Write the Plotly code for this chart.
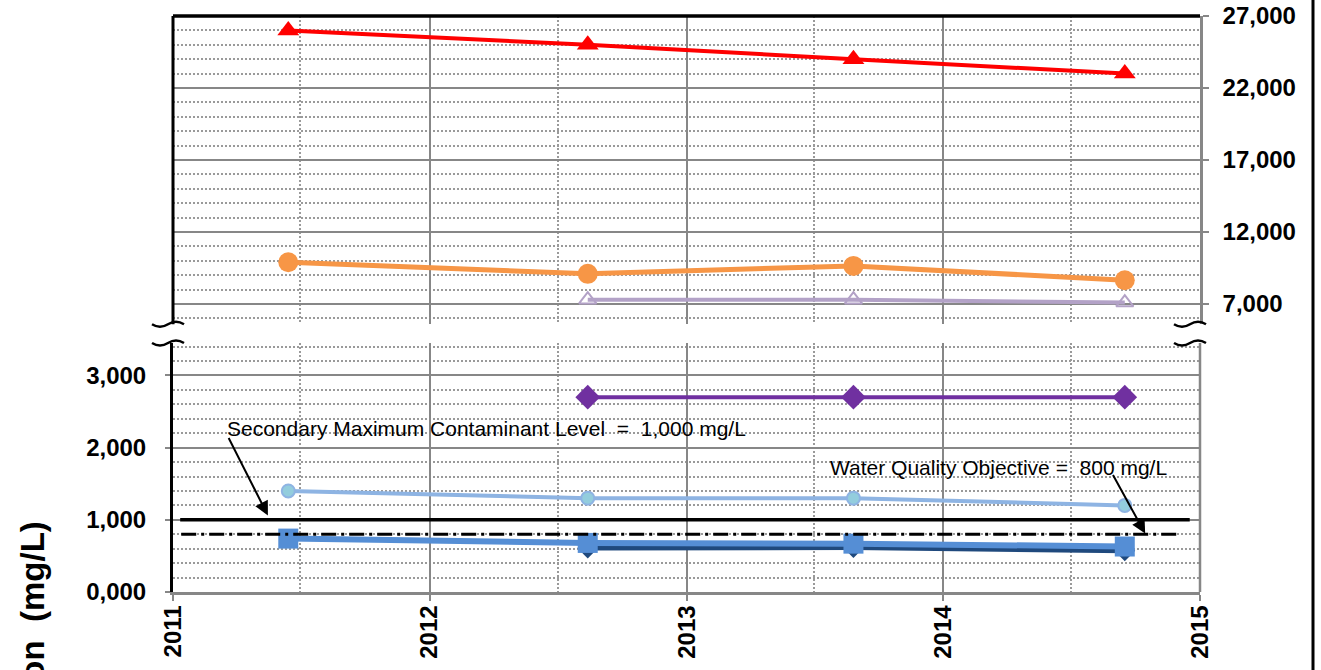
"""Concentration over time, broken y-axis (high-range panel on top, low-range below)."""
import plotly.graph_objects as go

# --- data -------------------------------------------------------------------
SAMPLE_DATES = ["2011-06-14", "2012-08-13", "2013-08-26", "2014-09-16"]

# upper panel (right-hand scale)
red_tri = [26000, 25000, 24000, 23000]
orange_circ = [9900, 9100, 9650, 8650]
lavender_tri = [7300, 7300, 7100]          # from 2nd sample on

# lower panel (left-hand scale)
purple_diam = [2700, 2700, 2700]           # from 2nd sample on
lightblue_circ = [1400, 1300, 1300, 1200]
navy_diam = [610, 615, 570]                # from 2nd sample on
blue_sq = [740, 680, 670, 630]

SMCL = 1000   # Secondary Maximum Contaminant Level
WQO = 800     # Water Quality Objective

TOP_TICKS = [7000, 12000, 17000, 22000, 27000]
TOP_TICKTEXT = ["7,000", "12,000", "17,000", "22,000", "27,000"]
BOT_TICKS = [0, 1000, 2000, 3000]
BOT_TICKTEXT = ["0,000", "1,000", "2,000", "3,000"]

TOP_RANGE = [5600, 27000]
BOT_RANGE = [0, 3450]

# --- layout geometry ----------------------------------------------------------
W, H = 1321, 670
L, R, T, B = 173, 121, 16, 78
PLOT_W = W - L - R
PLOT_H = H - T - B
BOT_DOMAIN = [0, 0.4323]
TOP_DOMAIN = [0.4649, 1]

FONT = "Liberation Sans, Arial, sans-serif"
GRID = "#878787"
DOT = "#9a9a9a"


def px_x(px):
    return (px - L) / PLOT_W


def px_y(py):
    return (H - B - py) / PLOT_H


fig = go.Figure()


def add_series(x, y, yaxis, color, symbol, size, lw, mcolor=None, mline=None):
    fig.add_trace(go.Scatter(
        x=x, y=y, yaxis=yaxis, xaxis="x" if yaxis == "y" else "x2",
        mode="lines+markers",
        line=dict(color=color, width=lw),
        marker=dict(symbol=symbol, size=size, color=mcolor or color,
                    line=dict(color=mline or color, width=2 if mline else 0)),
        showlegend=False, hoverinfo="x+y",
    ))


# upper panel
add_series(SAMPLE_DATES, red_tri, "y2", "#FF0000", "triangle-up", 19, 4)
add_series(SAMPLE_DATES, orange_circ, "y2", "#F79646", "circle", 20, 5)
add_series(SAMPLE_DATES[1:], lavender_tri, "y2", "#B3A2C7", "triangle-up-open", 15, 4,
           mline="#B3A2C7")

# lower panel
add_series(SAMPLE_DATES[1:], purple_diam, "y", "#7030A0", "diamond", 19, 4)
add_series(SAMPLE_DATES, lightblue_circ, "y", "#8EB4E3", "circle", 13, 4,
           mcolor="#93CDDD", mline="#8EB4E3")
add_series(SAMPLE_DATES[1:], navy_diam, "y", "#1F497D", "diamond", 16, 5)
add_series(SAMPLE_DATES, blue_sq, "y", "#558ED5", "square", 20, 6)

# reference lines
fig.add_shape(type="line", xref="x domain", yref="y", x0=0.007, x1=0.99,
              y0=SMCL, y1=SMCL, line=dict(color="black", width=3.5))
fig.add_shape(type="line", xref="x domain", yref="y", x0=0.008, x1=0.978,
              y0=WQO, y1=WQO, line=dict(color="black", width=3, dash="15px,5px,3px,5px"))

# frame pieces
fig.add_shape(type="line", xref="x domain", yref="y2 domain", x0=0, x1=0, y0=0, y1=1,
              line=dict(color="black", width=3))
fig.add_shape(type="line", xref="x domain", yref="y2 domain", x0=0, x1=1, y0=1, y1=1,
              line=dict(color="black", width=3.5))
fig.add_shape(type="line", xref="x domain", yref="y domain", x0=1, x1=1, y0=0, y1=1,
              line=dict(color=GRID, width=2.5))
fig.add_shape(type="line", xref="paper", yref="paper",
              x0=px_x(1313), x1=px_x(1313), y0=-0.2, y1=1.1,
              line=dict(color="black", width=3))


# axis-break squiggles
def squiggle(xc, yc):
    w = 32 / PLOT_W
    h = 5 / PLOT_H
    a = xc - w / 2
    return (f"M {a},{yc} Q {a + w / 4},{yc - h} {a + w / 2},{yc} "
            f"T {a + w},{yc}")


for xc in [px_x(168), px_x(1190)]:
    for yc in [TOP_DOMAIN[0], BOT_DOMAIN[1]]:
        fig.add_shape(type="path", xref="paper", yref="paper",
                      path=squiggle(xc, yc), line=dict(color="black", width=2.5))

# text annotations
fig.add_annotation(x=px_x(486), y=px_y(428), xref="paper", yref="paper",
                   xanchor="center", yanchor="middle",
                   text="Secondary Maximum Contaminant Level  =  1,000 mg/L",
                   showarrow=False, font=dict(family=FONT, size=21, color="black"))
fig.add_annotation(x=px_x(998), y=px_y(467), xref="paper", yref="paper",
                   xanchor="center", yanchor="middle",
                   text="Water Quality Objective =  800 mg/L",
                   showarrow=False, font=dict(family=FONT, size=21, color="black"))

# arrows
fig.add_annotation(x="2011-05-16", y=1060, xref="x", yref="y", text="",
                   showarrow=True, ax=-40, ay=-79, arrowhead=2, arrowsize=1.4,
                   arrowwidth=2, arrowcolor="black")
fig.add_annotation(x="2014-10-15", y=810, xref="x", yref="y", text="",
                   showarrow=True, ax=-33, ay=-60, arrowhead=2, arrowsize=1.4,
                   arrowwidth=2, arrowcolor="black")

# y-axis title (cut off at the bottom, as in the source)
fig.add_annotation(x=px_x(32), y=px_y(693), xref="paper", yref="paper",
                   xanchor="center", yanchor="middle",
                   text="Concentration\u00a0 (mg/L)", textangle=-90, showarrow=False,
                   font=dict(family=FONT, size=33, color="black", weight="bold"))

tickfont = dict(family=FONT, size=24, color="black", weight="bold")
xcommon = dict(
    type="date", range=["2011-01-01", "2015-01-01"], dtick="M12", tick0="2011-01-01",
    tickformat="%Y", showgrid=True, gridcolor=GRID, gridwidth=2,
    minor=dict(dtick="M6", showgrid=True, gridcolor=DOT, gridwidth=1.5, griddash="2px,2px"),
    zeroline=False, automargin=False,
)
fig.update_layout(
    width=W, height=H,
    margin=dict(l=L, r=R, t=T, b=B),
    paper_bgcolor="white", plot_bgcolor="white",
    showlegend=False,
    xaxis=dict(**xcommon, anchor="y", showline=True, linecolor=GRID, linewidth=2.5,
               ticks="outside", ticklen=6, tickcolor=GRID, tickwidth=2,
               tickangle=-90, tickfont=tickfont, ticklabelstandoff=-5),
    xaxis2=dict(**xcommon, anchor="y2", matches="x", showticklabels=False, showline=False),
    yaxis=dict(domain=BOT_DOMAIN, range=BOT_RANGE, tickvals=BOT_TICKS, ticktext=BOT_TICKTEXT,
               showgrid=True, gridcolor=GRID, gridwidth=2, zeroline=False, automargin=False,
               minor=dict(dtick=200, showgrid=True, gridcolor=DOT, gridwidth=1.5,
                          griddash="2px,2px"),
               showline=True, linecolor="black", linewidth=3,
               ticks="outside", ticklen=5, tickcolor=GRID, tickwidth=2,
               tickfont=tickfont, ticklabelstandoff=14),
    yaxis2=dict(domain=TOP_DOMAIN, range=TOP_RANGE, tickvals=TOP_TICKS, ticktext=TOP_TICKTEXT,
                side="right", anchor="x2", automargin=False,
                showgrid=True, gridcolor=GRID, gridwidth=2, zeroline=False,
                minor=dict(dtick=1000, showgrid=True, gridcolor=DOT, gridwidth=1.5,
                           griddash="2px,2px"),
                showline=True, linecolor=GRID, linewidth=2.5,
                ticks="outside", ticklen=6, tickcolor=GRID, tickwidth=2,
                tickfont=tickfont, ticklabelstandoff=9),
)

# the page body has a default 8px margin; drop it so the figure sits at the corner
fig.write_html("out.html", config={"displayModeBar": False},
               post_script="document.body.style.margin='0px';")
